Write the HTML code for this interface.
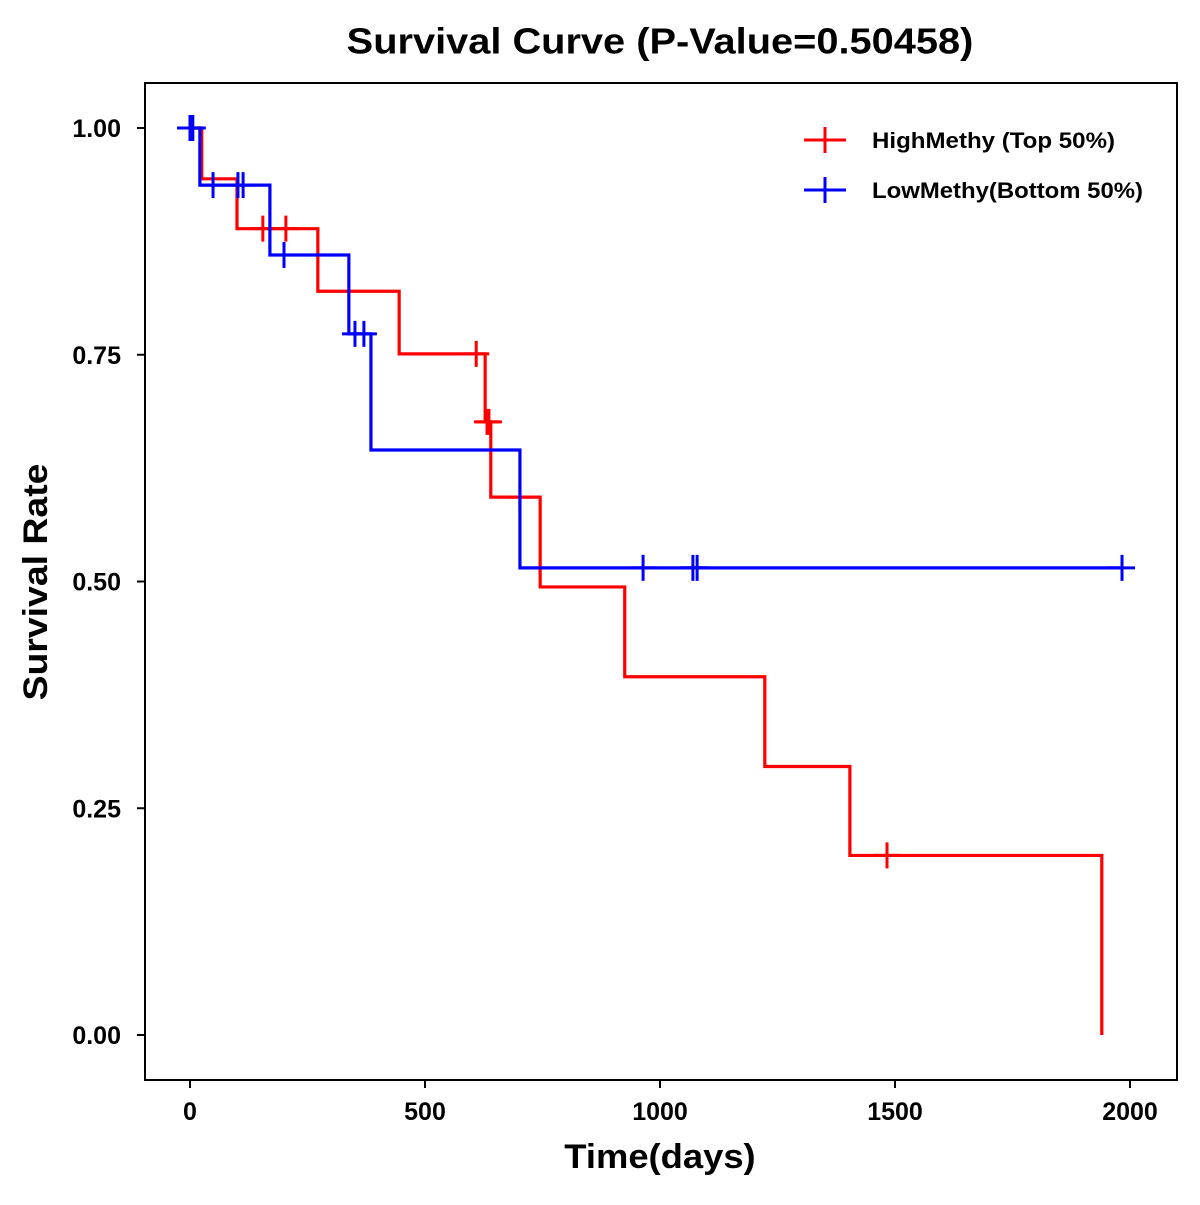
<!DOCTYPE html>
<html><head><meta charset="utf-8"><style>
body{margin:0;background:#fff}
text{font-family:"Liberation Sans",Arial,sans-serif;font-weight:bold}
</style></head><body>
<svg id="chart" width="1200" height="1200" xmlns="http://www.w3.org/2000/svg">
<rect width="1200" height="1200" fill="#fff"/>
<text x="660" y="51" text-anchor="middle" font-size="34" transform="translate(660,0) scale(1.17,1.05) translate(-660,0)">Survival Curve (P-Value=0.50458)</text>
<rect x="145" y="83" width="1032" height="997" fill="none" stroke="#000" stroke-width="2"/>
<g id="axes"></g>
<g id="series"></g>
<text x="660" y="1168" text-anchor="middle" font-size="34" transform="translate(660,0) scale(1.07,1) translate(-660,0)">Time(days)</text>
<text transform="translate(47,582) rotate(-90) scale(1.1,1)" text-anchor="middle" font-size="34">Survival Rate</text>
<g>
<g><line x1="804" y1="140" x2="846" y2="140" stroke="#f00" stroke-width="3"/><line x1="825" y1="127" x2="825" y2="153" stroke="#f00" stroke-width="3"/><text x="872" y="148" font-size="22" textLength="243" lengthAdjust="spacingAndGlyphs">HighMethy (Top 50%)</text></g>
<g><line x1="804" y1="190" x2="846" y2="190" stroke="#00f" stroke-width="3"/><line x1="825" y1="177" x2="825" y2="203" stroke="#00f" stroke-width="3"/><text x="872" y="198" font-size="22" textLength="271" lengthAdjust="spacingAndGlyphs">LowMethy(Bottom 50%)</text></g>
</g>
</svg>
<script>
const xTicks=[0,500,1000,1500,2000];
const yTicks=[0,0.25,0.5,0.75,1.0];
const yTickLabels=["0.00","0.25","0.50","0.75","1.00"];
const highTimes=[25,100,272,445,628,640,745,925,1223,1404,1940];
const highSurv=[0.944,0.889,0.82,0.751,0.676,0.593,0.494,0.395,0.296,0.198,0.0];
const highCensor=[155,204,609,632,636,702,1483];
const lowTimes=[21,170,338,385,702];
const lowSurv=[0.937,0.86,0.773,0.645,0.515];
const lowCensor=[0,6,49,102,113,200,351,370,964,1070,1079,1983];
const NS="http://www.w3.org/2000/svg";
const X=d=>190+d*0.47;
const Y=s=>1035-s*907;
function mk(tag,attrs,parent){const e=document.createElementNS(NS,tag);for(const k in attrs)e.setAttribute(k,attrs[k]);parent.appendChild(e);return e;}
const axes=document.getElementById('axes');
xTicks.forEach(t=>{
 const l=mk('line',{x1:X(t),x2:X(t),y1:1080,y2:1088,stroke:'#000','stroke-width':2},axes);
 
 
 const tx=mk('text',{x:X(t),y:1120,'text-anchor':'middle','font-size':25},axes);tx.textContent=t;
 
 
});
yTicks.forEach((t,i)=>{
 const l=mk('line',{x1:137,x2:145,y1:Y(t),y2:Y(t),stroke:'#000','stroke-width':2},axes);
 
 
 const tx=mk('text',{x:121,y:Y(t)+9,'text-anchor':'end','font-size':25},axes);tx.textContent=yTickLabels[i];
 
 
});
const series=document.getElementById('series');
function survAt(times,surv,t){let s=1;for(let i=0;i<times.length;i++){if(times[i]<=t)s=surv[i];}return s;}
function draw(times,surv,censor,endT,color,name){
 let d='M'+X(0)+','+Y(1);
 for(let i=0;i<times.length;i++){d+=' H'+X(times[i])+' V'+Y(surv[i]);}
 if(endT>times[times.length-1])d+=' H'+X(endT);
 const p=mk('path',{d:d,fill:'none',stroke:color,'stroke-width':3.2},series);
 
 
 censor.forEach(c=>{
  const y=Y(survAt(times,surv,c)),x=X(c);
  const g=mk('path',{d:`M${x-13},${y} H${x+13} M${x},${y-13} V${y+13}`,stroke:color,'stroke-width':3,fill:'none'},series);
  
  
 });
}
draw(highTimes,highSurv,highCensor,1940,'#f00','high-methy');
draw(lowTimes,lowSurv,lowCensor,1983,'#00f','low-methy');
</script>
</body></html>
